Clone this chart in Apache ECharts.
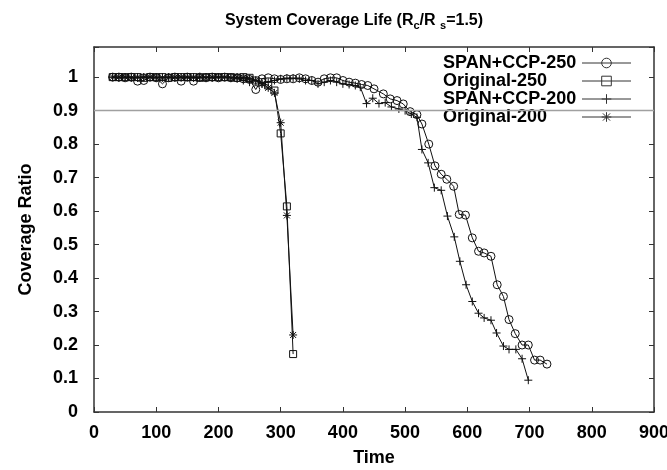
<!DOCTYPE html>
<html>
<head>
<meta charset="utf-8">
<script src="https://cdn.jsdelivr.net/npm/echarts@6/dist/echarts.min.js"></script>
<style>html,body{margin:0;padding:0;background:#fff;}#c{width:667px;height:470px;}</style>
</head>
<body>
<div id="c"></div>
<script>
// ---- data ----
const seriesNames = ['SPAN+CCP-250', 'Original-250', 'SPAN+CCP-200', 'Original-200'];
const xTicks = [0, 100, 200, 300, 400, 500, 600, 700, 800, 900];
const yTicks = [0, 0.1, 0.2, 0.3, 0.4, 0.5, 0.6, 0.7, 0.8, 0.9, 1];
const thresholdLevel = 0.9;

const span250Time = [30,40,50,60,70,80,90,100,110,120,130,140,150,160,170,180,190,200,210,220,230,240,250,260,270,280,290,300,310,320,330,340,350,360,370,380,390,400,410,420,430,440,450,465,476,487,497,508,519,527,538,548,558,567,578,587,597,608,618,627,638,648,658,667,677,688,698,708,717,728];
const span250Ratio = [1.0,1.0,0.998,1.0,0.988,0.99,1.0,0.998,0.98,0.998,1.0,0.988,1.0,0.988,1.0,0.998,1.0,0.998,1.0,0.998,0.998,0.995,0.993,0.963,0.995,0.998,0.995,0.993,0.995,0.995,0.998,0.995,0.99,0.985,0.995,0.998,0.998,0.99,0.985,0.982,0.978,0.975,0.965,0.95,0.935,0.93,0.92,0.897,0.888,0.86,0.80,0.735,0.71,0.695,0.674,0.59,0.588,0.52,0.48,0.475,0.465,0.38,0.345,0.276,0.234,0.2,0.2,0.155,0.155,0.143];

const orig250Time = [30,40,50,60,70,80,90,100,110,120,130,140,150,160,170,180,190,200,210,220,230,240,250,260,270,280,290,300,310,320];
const orig250Ratio = [1.0,1.0,1.0,1.0,1.0,0.998,1.0,1.0,1.0,0.998,1.0,1.0,1.0,1.0,0.998,1.0,1.0,1.0,1.0,1.0,0.998,1.0,0.998,0.99,0.985,0.975,0.96,0.832,0.614,0.173];

const span200Time = [30,40,50,60,70,80,90,100,110,120,130,140,150,160,170,180,190,200,210,220,230,240,250,260,270,280,290,300,310,320,330,340,350,360,370,380,390,400,410,420,428,438,448,458,468,478,490,500,510,519,527,537,547,558,568,579,588,598,608,618,627,638,647,658,667,678,688,698];
const span200Ratio = [1.0,0.998,1.0,1.0,0.998,1.0,1.0,0.998,1.0,1.0,0.998,1.0,1.0,0.998,1.0,1.0,0.998,1.0,1.0,0.998,0.995,0.99,0.985,0.99,0.98,0.985,0.99,0.995,0.997,0.997,0.995,0.99,0.99,0.98,0.985,0.99,0.985,0.98,0.978,0.975,0.97,0.921,0.937,0.921,0.924,0.911,0.905,0.9,0.89,0.88,0.784,0.744,0.67,0.662,0.585,0.523,0.45,0.38,0.33,0.295,0.281,0.274,0.236,0.197,0.187,0.187,0.159,0.095];

const orig200Time = [30,40,50,60,70,80,90,100,110,120,130,140,150,160,170,180,190,200,210,220,230,240,250,260,270,280,290,300,310,320];
const orig200Ratio = [1.0,1.0,1.0,0.998,1.0,1.0,1.0,1.0,0.998,1.0,1.0,1.0,1.0,1.0,1.0,0.998,1.0,1.0,1.0,0.998,1.0,0.998,0.995,0.99,0.98,0.968,0.953,0.864,0.587,0.23];

// ---- chart ----
const FONT = 'Liberation Sans';
const zip = (xs, ys) => xs.map((x, i) => [x, ys[i]]);

const plusPath = 'path://M0,-1L0,1M-1,0L1,0';
const starPath = 'path://M0,-1L0,1M-1,0L1,0M-0.75,-0.75L0.75,0.75M-0.75,0.75L0.75,-0.75';

function mkSeries(name, data, symbol, size) {
  return {
    name: name,
    type: 'line',
    data: data,
    symbol: symbol,
    symbolSize: size,
    showAllSymbol: true,
    animation: false,
    lineStyle: { color: '#111', width: 1 },
    itemStyle: { color: 'rgba(0,0,0,0)', borderColor: '#111', borderWidth: 1 },
    emphasis: { disabled: true }
  };
}

const series = [
  mkSeries(seriesNames[0], zip(span250Time, span250Ratio), 'circle', 8),
  mkSeries(seriesNames[1], zip(orig250Time, orig250Ratio), 'rect', 7),
  mkSeries(seriesNames[2], zip(span200Time, span200Ratio), plusPath, 8),
  mkSeries(seriesNames[3], zip(orig200Time, orig200Ratio), starPath, 8)
];
series[0].markLine = {
  silent: true,
  symbol: 'none',
  animation: false,
  label: { show: false },
  lineStyle: { color: '#a0a0a0', width: 1.3, type: 'solid' },
  data: [{ yAxis: thresholdLevel }]
};

const axisLineStyle = { color: '#333', width: 1.5 };
const tickStyle = { show: true, inside: true, length: 5, lineStyle: { color: '#333', width: 1 } };
const labelStyle = { fontFamily: FONT, fontSize: 18, fontWeight: 'bold', color: '#000' };

const chart = echarts.init(document.getElementById('c'), null, { renderer: 'canvas' });
chart.setOption({
  backgroundColor: '#fff',
  animation: false,
  title: {
    text: 'System Coverage Life (R{sub|c}/R {sub|s}=1.5)',
    left: 349, top: 5, textAlign: 'center',
    textStyle: {
      fontFamily: FONT, fontSize: 16, fontWeight: 'bold', color: '#000',
      rich: { sub: { fontFamily: FONT, fontSize: 11, fontWeight: 'bold', color: '#000', verticalAlign: 'bottom', padding: [10, 0, 0, 0] } }
    }
  },
  grid: { left: 94, right: 13, top: 47, bottom: 58, outerBoundsMode: 'none', containLabel: false },
  legend: {
    data: seriesNames,
    orient: 'vertical',
    left: 443, top: 54,
    align: 'right',
    itemWidth: 49, itemHeight: 12, itemGap: 0, padding: 0,
    selectedMode: false,
    lineStyle: { width: 1, color: '#333' },
    itemStyle: { borderWidth: 1, borderColor: '#333', color: 'rgba(0,0,0,0)' },
    formatter: function (n) { return '{a|' + n + '}'; },
    textStyle: {
      fontFamily: FONT, fontSize: 18, fontWeight: 'bold', color: '#000', lineHeight: 17,
      rich: { a: { width: 134, height: 17, align: 'left', fontFamily: FONT, fontSize: 18, fontWeight: 'bold', color: '#000', lineHeight: 17 } }
    }
  },
  xAxis: [
    {
      type: 'value', min: xTicks[0], max: xTicks[xTicks.length - 1], interval: xTicks[1] - xTicks[0],
      position: 'bottom',
      name: 'Time', nameLocation: 'middle', nameGap: 37,
      nameTextStyle: labelStyle,
      axisLine: { show: true, onZero: false, lineStyle: axisLineStyle },
      axisTick: tickStyle,
      axisLabel: Object.assign({ margin: 12 }, labelStyle),
      splitLine: { show: false }
    },
    {
      type: 'value', min: xTicks[0], max: xTicks[xTicks.length - 1], interval: xTicks[1] - xTicks[0],
      position: 'top',
      axisLine: { show: true, onZero: false, lineStyle: axisLineStyle },
      axisTick: tickStyle,
      axisLabel: { show: false },
      splitLine: { show: false }
    }
  ],
  yAxis: [
    {
      type: 'value', min: 0, max: 1.09, interval: 0.1,
      position: 'left',
      name: 'Coverage Ratio', nameLocation: 'middle', nameGap: 59,
      nameTextStyle: labelStyle,
      axisLine: { show: true, onZero: false, lineStyle: axisLineStyle },
      axisTick: tickStyle,
      axisLabel: Object.assign({
        margin: 16,
        formatter: function (v) {
          const t = yTicks.find(function (k) { return Math.abs(k - v) < 1e-6; });
          if (t === undefined) return '';
          return t === 0 ? '0' : (t === 1 ? '1' : t.toFixed(1));
        }
      }, labelStyle),
      splitLine: { show: false }
    },
    {
      type: 'value', min: 0, max: 1.09, interval: 0.1,
      position: 'right',
      axisLine: { show: true, onZero: false, lineStyle: axisLineStyle },
      axisTick: tickStyle,
      axisLabel: { show: false },
      splitLine: { show: false }
    }
  ],
  series: series
});
</script>
</body>
</html>
